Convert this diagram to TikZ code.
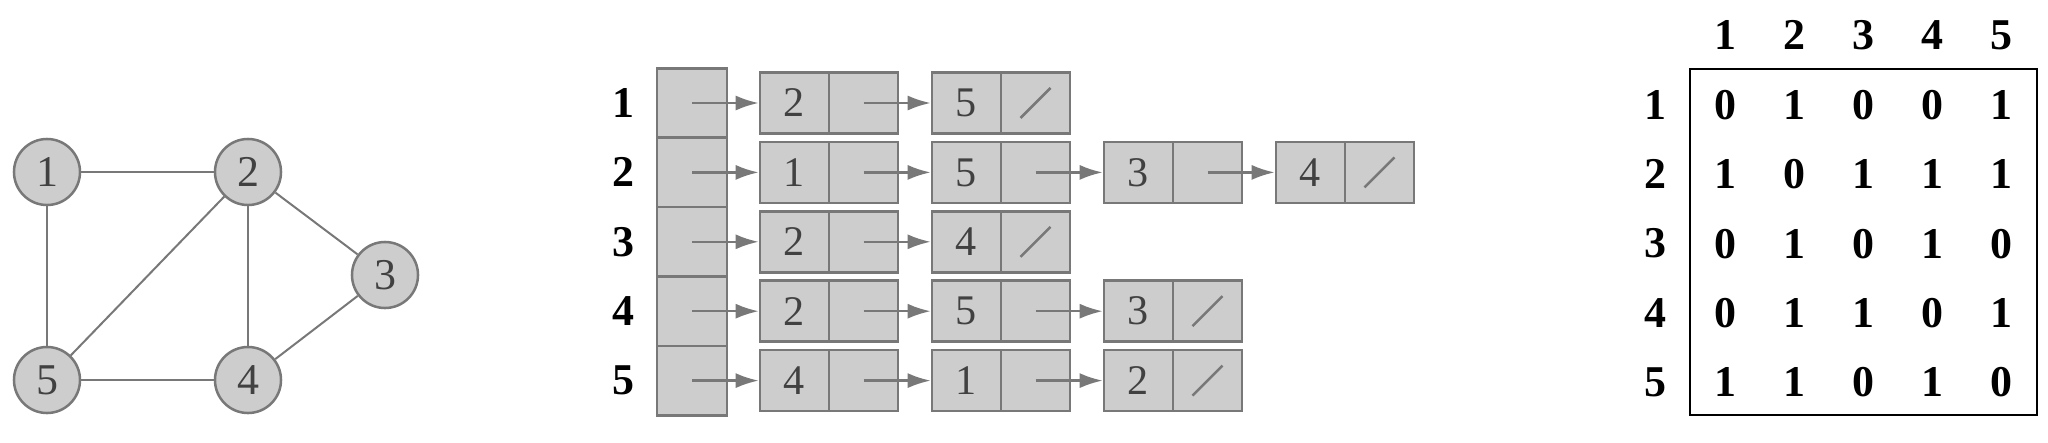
\documentclass[tikz,border=0pt]{standalone}
\usepackage{fontspec}
\setmainfont{Liberation Serif}
\usetikzlibrary{arrows.meta}

\definecolor{cellgray}{RGB}{205,205,205}
\definecolor{linegray}{RGB}{120,120,120}
\definecolor{textgray}{RGB}{65,65,65}

\begin{document}
\begin{tikzpicture}[x=0.01cm,y=-0.01cm,
  vertex/.style={circle,draw=linegray,fill=cellgray,line width=0.25mm,minimum size=6.6mm,inner sep=0pt,text=textgray,font=\fontsize{12.5}{14}\selectfont},
  edge/.style={draw=linegray,line width=0.2mm},
  headcell/.style={rectangle,draw=linegray,fill=cellgray,line width=0.25mm,minimum width=7mm,minimum height=6.94mm,inner sep=0pt},
  cell/.style={rectangle,draw=linegray,fill=cellgray,line width=0.25mm,minimum width=6.9mm,minimum height=6.1mm,inner sep=0pt,text=textgray,font=\fontsize{12}{14}\selectfont},
  link/.style={draw=linegray,line width=0.25mm,-{Latex[length=2.3mm,width=1.5mm]}},
  lbl/.style={font=\fontsize{12.5}{14}\selectfont\bfseries}]
\useasboundingbox (0,0) rectangle (2048,442);

% graph
\node[vertex] (v1) at (47,172) {1};
\node[vertex] (v2) at (248,172) {2};
\node[vertex] (v3) at (385,275) {3};
\node[vertex] (v4) at (248,380) {4};
\node[vertex] (v5) at (47,380) {5};
\foreach \a/\b in {1/2,1/5,2/5,2/4,2/3,3/4,5/4}
    \draw[edge] (v\a) -- (v\b);

% adjacency lists
\foreach \r in {1,...,5} {
    \node[lbl] (row\r) at (623,{103+69.4*(\r-1)}) {\r};
    \node[headcell] (h\r) at (692,{103+69.4*(\r-1)}) {};
}
\foreach \r/\k/\v in {1/1/2,1/2/5,2/1/1,2/2/5,2/3/3,2/4/4,3/1/2,3/2/4,4/1/2,4/2/5,4/3/3,5/1/4,5/2/1,5/3/2} {
    \node[cell] (d\r\k) at ({794.5+172*(\k-1)},{103+69.4*(\r-1)}) {\v};
    \node[cell] (p\r\k) at ({863.5+172*(\k-1)},{103+69.4*(\r-1)}) {};
}
\foreach \r in {1,...,5}
    \draw[link] (h\r.center) -- (d\r1.west);
\foreach \r/\k [evaluate=\k as \n using int(\k+1)] in {1/1,2/1,2/2,2/3,3/1,4/1,4/2,5/1,5/2}
    \draw[link] (p\r\k.center) -- (d\r\n.west);
% nil pointers
\foreach \r/\k in {1/2,2/4,3/2,4/3,5/3}
    \draw[draw=linegray,line width=0.25mm] ([shift={(-15,15)}]p\r\k.center) -- ([shift={(15,-15)}]p\r\k.center);

% adjacency matrix
\draw[line width=0.25mm] (1690,69) rectangle (2037,415);
\foreach \j in {1,...,5}
    \node[lbl] (col\j) at ({1725+69.2*(\j-1)},35) {\j};
\foreach \i in {1,...,5}
    \node[lbl] (lin\i) at (1655,{105+69.3*(\i-1)}) {\i};
\foreach \row [count=\i] in {{0,1,0,0,1},{1,0,1,1,1},{0,1,0,1,0},{0,1,1,0,1},{1,1,0,1,0}}
    \foreach \v [count=\j] in \row
        \node[lbl] (m\i\j) at ({1725+69.2*(\j-1)},{105+69.3*(\i-1)}) {\v};

\end{tikzpicture}
\end{document}
